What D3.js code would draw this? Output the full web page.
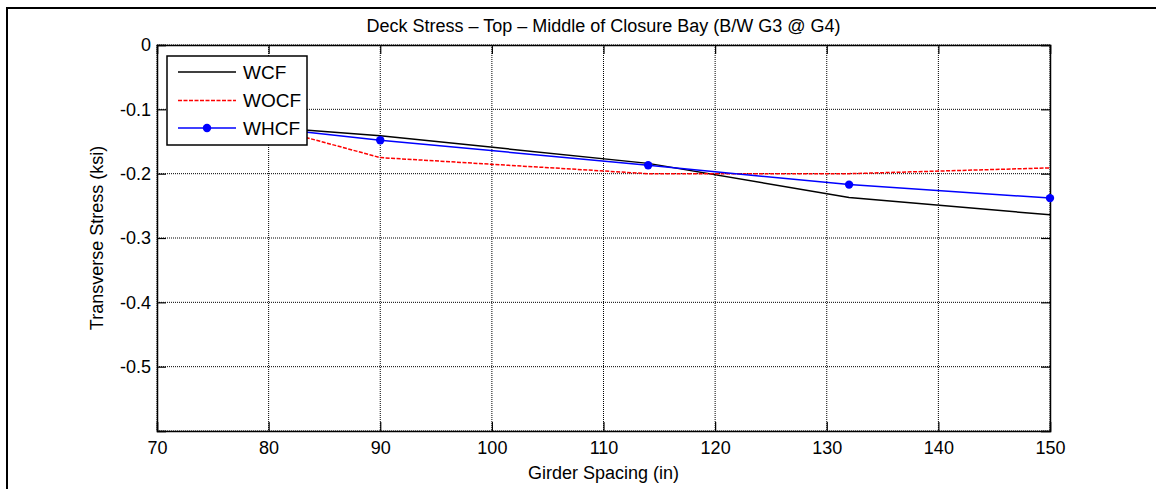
<!DOCTYPE html>
<html>
<head>
<meta charset="utf-8">
<script src="https://cdn.jsdelivr.net/npm/d3@7"></script>
<style>
  html, body { margin: 0; padding: 0; background: #fff; overflow: hidden; }
  svg { display: block; font-family: "Liberation Sans", Arial, sans-serif; }
</style>
</head>
<body>
<svg id="chart" width="1156" height="489"></svg>
<script>
// ---- data ----
const titleText = "Deck Stress \u2013 Top \u2013 Middle of Closure Bay (B/W G3 @ G4)";
const xLabel = "Girder Spacing (in)";
const yLabel = "Transverse Stress (ksi)";
const seriesNames = ["WCF", "WOCF", "WHCF"];
const xWCF  = [80, 90, 114, 132, 150];
const yWCF  = [-0.128, -0.141, -0.184, -0.237, -0.264];
const xWOCF = [80, 90, 114, 132, 150];
const yWOCF = [-0.128, -0.175, -0.200, -0.200, -0.191];
const xWHCF = [80, 90, 114, 132, 150];
const yWHCF = [-0.129, -0.148, -0.187, -0.217, -0.238];
const xTicks = [70, 80, 90, 100, 110, 120, 130, 140, 150];
const yTicks = [0, -0.1, -0.2, -0.3, -0.4, -0.5, -0.6];
const yTickLabels = ["0", "-0.1", "-0.2", "-0.3", "-0.4", "-0.5", ""];

const svg = d3.select("#chart");
const L = 157, R = 1050, T = 45, B = 431;
const x = d3.scaleLinear().domain([70, 150]).range([L, R]);
const y = d3.scaleLinear().domain([-0.6, 0]).range([B, T]);

// outer figure border
svg.append("rect").attr("x", 7).attr("y", 8).attr("width", 1200).attr("height", 600)
  .attr("fill", "none").attr("stroke", "#000").attr("stroke-width", 2);

// grid
const grid = svg.append("g");
grid.selectAll(".gx").data(xTicks).enter().append("line")
  .attr("x1", d => x(d)).attr("x2", d => x(d)).attr("y1", T).attr("y2", B)
  .attr("stroke", "#000").attr("stroke-width", 1).attr("stroke-dasharray", "1,1");
grid.selectAll(".gy").data(yTicks).enter().append("line")
  .attr("y1", d => y(d)).attr("y2", d => y(d)).attr("x1", L).attr("x2", R)
  .attr("stroke", "#000").attr("stroke-width", 1).attr("stroke-dasharray", "1,1");

// axes (ticks inside)
const fs = "18px";
const ax = svg.append("g").attr("transform", `translate(0,${B})`)
  .call(d3.axisBottom(x).tickValues(xTicks).tickSize(-9).tickPadding(10).tickFormat(d3.format("d")));
const axTop = svg.append("g").attr("transform", `translate(0,${T})`)
  .call(d3.axisTop(x).tickValues(xTicks).tickSize(-9).tickFormat(""));
const ay = svg.append("g").attr("transform", `translate(${L},0)`)
  .call(d3.axisLeft(y).tickValues(yTicks).tickSize(-9).tickPadding(6).tickFormat((d, i) => yTickLabels[i]));
const ayR = svg.append("g").attr("transform", `translate(${R},0)`)
  .call(d3.axisRight(y).tickValues(yTicks).tickSize(-9).tickFormat(""));
[ax, axTop, ay, ayR].forEach(g => {
  g.select(".domain").attr("stroke", "#000").attr("stroke-width", 1.5);
  g.selectAll(".tick line").attr("stroke", "#000").attr("stroke-width", 1.2);
  g.selectAll("text").attr("font-size", fs).attr("fill", "#000")
    .attr("font-family", "'Liberation Sans', Arial, sans-serif");
});

// series
const line = d3.line().x(d => x(d[0])).y(d => y(d[1]));
const dWCF = xWCF.map((v, i) => [v, yWCF[i]]);
const dWOCF = xWOCF.map((v, i) => [v, yWOCF[i]]);
const dWHCF = xWHCF.map((v, i) => [v, yWHCF[i]]);
svg.append("path").datum(dWCF).attr("d", line).attr("fill", "none")
  .attr("stroke", "#000").attr("stroke-width", 1.5);
svg.append("path").datum(dWOCF).attr("d", line).attr("fill", "none")
  .attr("stroke", "#ff0000").attr("stroke-width", 1.5).attr("stroke-dasharray", "4,1.5");
svg.append("path").datum(dWHCF).attr("d", line).attr("fill", "none")
  .attr("stroke", "#0000ff").attr("stroke-width", 1.5);
svg.selectAll(".mk").data(dWHCF).enter().append("circle")
  .attr("cx", d => x(d[0])).attr("cy", d => y(d[1])).attr("r", 4.2).attr("fill", "#0000ff");

// legend
const lg = svg.append("g");
lg.append("rect").attr("x", 167).attr("y", 56).attr("width", 140).attr("height", 89)
  .attr("fill", "#fff").attr("stroke", "#000").attr("stroke-width", 1.5);
const rows = [72, 100.5, 128];
const styles = [
  { c: "#000", dash: null, mk: false },
  { c: "#ff0000", dash: "4,1.5", mk: false },
  { c: "#0000ff", dash: null, mk: true }
];
seriesNames.forEach((n, i) => {
  const l = lg.append("line").attr("x1", 178).attr("x2", 236).attr("y1", rows[i]).attr("y2", rows[i])
    .attr("stroke", styles[i].c).attr("stroke-width", 1.5);
  if (styles[i].dash) l.attr("stroke-dasharray", styles[i].dash);
  if (styles[i].mk) lg.append("circle").attr("cx", 207).attr("cy", rows[i]).attr("r", 4.2).attr("fill", styles[i].c);
  lg.append("text").attr("x", 243).attr("y", rows[i]).attr("dy", "0.35em")
    .attr("font-size", "19px").attr("fill", "#000").text(n);
});

// title and labels
svg.append("text").attr("x", (L + R) / 2).attr("y", 32).attr("text-anchor", "middle")
  .attr("font-size", "18px").attr("fill", "#000").text(titleText);
svg.append("text").attr("x", (L + R) / 2).attr("y", 479).attr("text-anchor", "middle")
  .attr("font-size", fs).attr("fill", "#000").text(xLabel);
svg.append("text").attr("transform", `translate(103,${(T + B) / 2}) rotate(-90)`)
  .attr("text-anchor", "middle").attr("font-size", fs).attr("fill", "#000").text(yLabel);
</script>
</body>
</html>
